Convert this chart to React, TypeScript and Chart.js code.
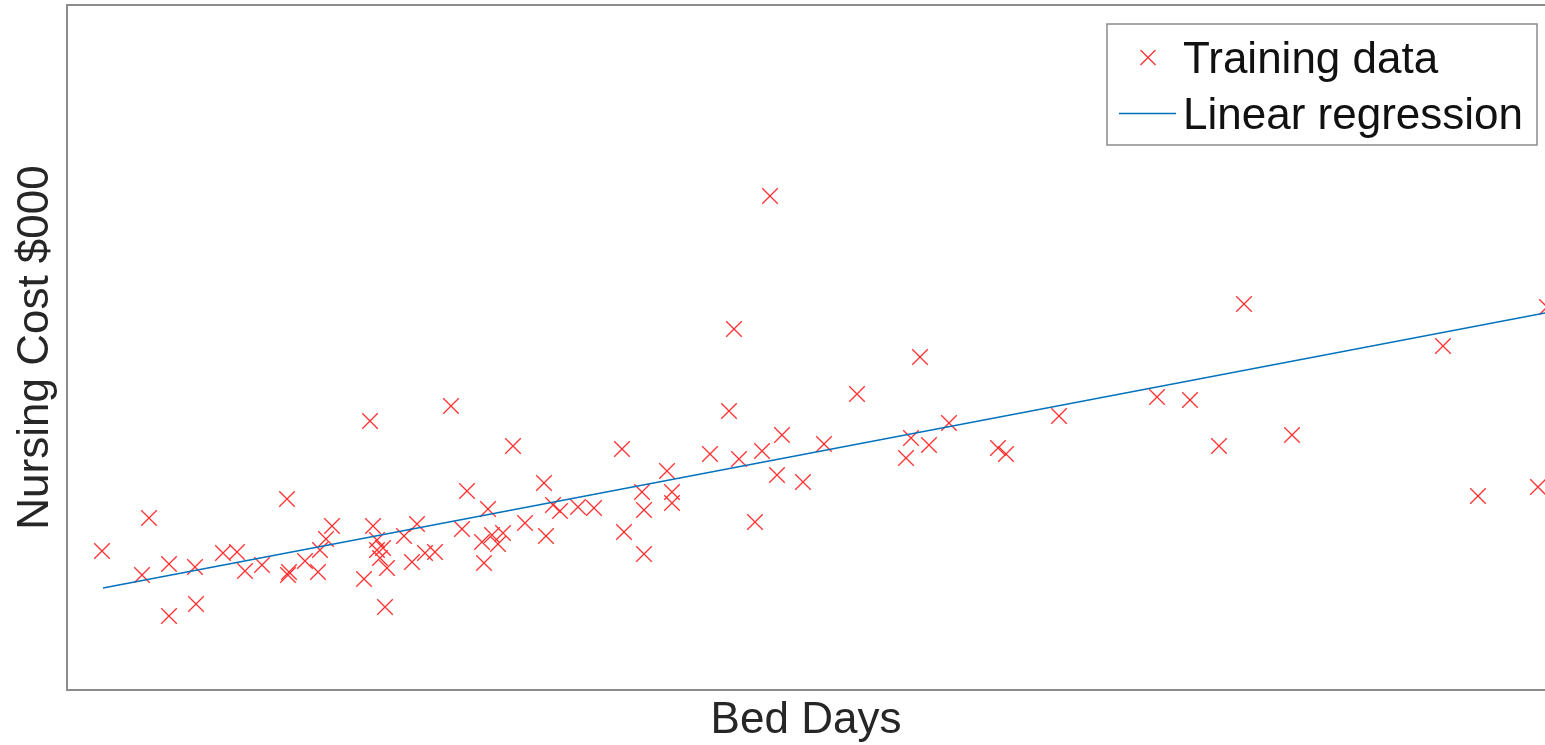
import React, { useEffect, useRef } from "react";
import { Chart, registerables } from "chart.js";

Chart.register(...registerables);

// Training data (Bed Days vs Nursing Cost $000)
const bedDays = [
  7.0, 15.0, 16.4, 20.4, 20.4, 25.6, 25.8, 31.2, 34.0, 35.6, 39.0, 44.0, 44.2, 44.4, 47.6,
  50.2, 50.6, 51.8, 53.0, 59.4, 60.6, 61.2, 62.0, 62.0, 63.2, 62.6, 64.0, 63.6, 67.4, 69.0,
  70.0, 71.6, 73.6, 76.8, 79.0, 80.0, 83.0, 83.4, 84.2, 85.0, 86.2, 87.2, 89.2, 91.6, 95.4,
  95.8, 97.2, 98.6, 102.2, 105.4, 111.0, 111.4, 115.0, 115.4, 115.4, 120.0, 121.0, 121.0, 128.6, 132.4,
  133.4, 134.4, 137.6, 139.0, 140.6, 142.0, 143.0, 147.2, 151.4, 158.0, 167.8, 168.8, 170.6, 172.4, 176.4,
  186.2, 187.8, 198.4, 218.0, 224.6, 230.4, 235.4, 245.0, 275.2, 282.2, 294.2, 296.0,
];
const nursingCost = [
  13.9, 11.5, 17.2, 12.6, 7.4, 12.3, 8.6, 13.7, 13.8, 11.9, 12.5, 19.1, 11.5, 11.8, 12.9,
  11.8, 14.0, 15.1, 16.4, 11.1, 26.9, 16.4, 15.0, 14.0, 14.2, 13.2, 12.2, 8.3, 15.4, 12.8,
  16.6, 13.7, 13.8, 28.4, 16.1, 19.9, 14.8, 12.7, 18.1, 15.5, 14.6, 15.7, 24.4, 16.7, 20.7,
  15.4, 18.5, 17.9, 18.3, 18.2, 24.1, 15.8, 19.8, 18.0, 13.6, 21.9, 19.8, 18.7, 23.6, 27.9,
  36.1, 23.1, 16.8, 23.9, 49.4, 21.5, 25.5, 20.8, 24.6, 29.6, 23.2, 25.2, 33.3, 24.5, 26.7,
  24.2, 23.6, 27.4, 29.3, 29.0, 24.4, 38.6, 25.5, 34.4, 19.4, 20.3, 38.3,
];

// Linear regression line end points
const fitBedDays = [7.2, 295.6];
const fitCost = [10.2, 37.7];

// Axis limits
const xLimits = [0, 295.6];
const yLimits = [0, 68.5];

const seriesLabels = ["Training data", "Linear regression"];

const FONT = '"Liberation Sans", Arial, Helvetica, sans-serif';
const AXIS_GRAY = "#8c8c8c";

const boxPlugin = {
  id: "matlabBox",
  afterDraw(chart: any) {
    const { ctx, chartArea } = chart;
    ctx.save();
    ctx.strokeStyle = AXIS_GRAY;
    ctx.lineWidth = 2;
    ctx.beginPath();
    ctx.moveTo(chartArea.left - 1, chartArea.top);
    ctx.lineTo(chartArea.right, chartArea.top);
    ctx.stroke();
    ctx.restore();
  },
};

const legendPlugin = {
  id: "matlabLegend",
  afterDraw(chart: any) {
    const { ctx, chartArea } = chart;
    const ds = chart.data.datasets;
    const right = chartArea.right - 8;
    const top = chartArea.top + 19;
    const width = 430;
    const height = 121;
    const left = right - width;
    ctx.save();
    ctx.fillStyle = "#ffffff";
    ctx.fillRect(left, top, width, height);
    ctx.strokeStyle = AXIS_GRAY;
    ctx.lineWidth = 1.5;
    ctx.strokeRect(left, top, width, height);

    // row 1: marker
    const mx = left + 41;
    const my = top + 33.5;
    const h = 7.5;
    ctx.strokeStyle = ds[0].borderColor;
    ctx.lineWidth = 1.3;
    ctx.beginPath();
    ctx.moveTo(mx - h, my - h);
    ctx.lineTo(mx + h, my + h);
    ctx.moveTo(mx - h, my + h);
    ctx.lineTo(mx + h, my - h);
    ctx.stroke();

    // row 2: line
    const ly = top + 89.5;
    ctx.strokeStyle = ds[1].borderColor;
    ctx.lineWidth = 1.5;
    ctx.beginPath();
    ctx.moveTo(left + 12, ly);
    ctx.lineTo(left + 69, ly);
    ctx.stroke();

    ctx.fillStyle = "#111111";
    ctx.font = `44px ${FONT}`;
    ctx.textBaseline = "alphabetic";
    ctx.textAlign = "left";
    ctx.fillText(ds[0].label, left + 76, top + 49);
    ctx.fillText(ds[1].label, left + 76, top + 105);
    ctx.restore();
  },
};

export default function App() {
  const canvasRef = useRef<HTMLCanvasElement | null>(null);

  useEffect(() => {
    document.body.style.margin = "0";
    document.body.style.overflow = "hidden";
    const canvas = canvasRef.current;
    if (!canvas) return;

    const points = bedDays.map((x, i) => ({ x, y: nursingCost[i] }));
    const fit = fitBedDays.map((x, i) => ({ x, y: fitCost[i] }));

    const chart = new Chart(canvas, {
      type: "scatter",
      data: {
        datasets: [
          {
            label: seriesLabels[0],
            data: points,
            pointStyle: "crossRot",
            pointRadius: 11,
            pointHoverRadius: 11,
            borderColor: "#ff3030",
            backgroundColor: "#ff3030",
            borderWidth: 1.3,
            order: 2,
          },
          {
            label: seriesLabels[1],
            type: "line",
            data: fit,
            showLine: true,
            pointRadius: 0,
            borderColor: "#0072BD",
            backgroundColor: "#0072BD",
            borderWidth: 1.6,
            fill: false,
            order: 1,
          } as any,
        ],
      },
      options: {
        animation: false,
        responsive: false,
        maintainAspectRatio: false,
        events: [],
        layout: { autoPadding: false, padding: { top: 5, right: 0, bottom: 0, left: 0 } },
        plugins: {
          legend: { display: false },
          tooltip: { enabled: false },
        },
        scales: {
          x: {
            type: "linear",
            position: "bottom",
            min: xLimits[0],
            max: xLimits[1],
            ticks: { display: false },
            grid: { display: false, drawTicks: false },
            border: { display: true, color: AXIS_GRAY, width: 2 },
            title: {
              display: true,
              text: "Bed Days",
              color: "#262626",
              font: { family: FONT, size: 44, lineHeight: 1 },
              padding: { top: 9, bottom: 2 },
            },
          },
          y: {
            type: "linear",
            position: "left",
            min: yLimits[0],
            max: yLimits[1],
            ticks: { display: false },
            grid: { display: false, drawTicks: false },
            border: { display: true, color: AXIS_GRAY, width: 2 },
            title: {
              display: true,
              text: "Nursing Cost $000",
              color: "#262626",
              font: { family: FONT, size: 44, lineHeight: 1 },
              padding: { top: 14, bottom: 9 },
            },
          },
        },
      },
      plugins: [boxPlugin, legendPlugin],
    });

    return () => chart.destroy();
  }, []);

  return (
    <div style={{ width: 1545, height: 745, overflow: "hidden" }}>
      <canvas ref={canvasRef} width={1545} height={745} style={{ display: "block" }} />
    </div>
  );
}
